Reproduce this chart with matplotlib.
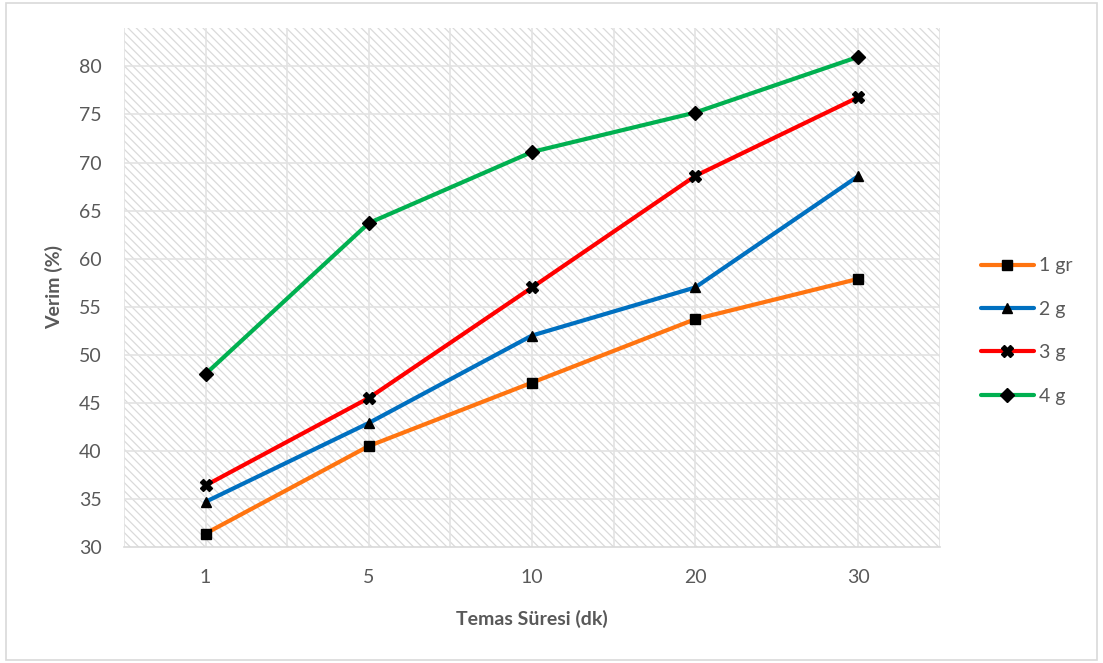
import numpy as np
import matplotlib.pyplot as plt
from matplotlib.patches import Rectangle

plt.rcParams['font.family'] = ['Lato', 'DejaVu Sans']

# contact time categories and yield (%) for each adsorbent dose
sure = ['1', '5', '10', '20', '30']
verim_1g = [31.4, 40.5, 47.1, 53.7, 57.9]
verim_2g = [34.7, 42.9, 52.0, 57.0, 68.6]
verim_3g = [36.4, 45.5, 57.0, 68.6, 76.8]
verim_4g = [48.0, 63.7, 71.1, 75.2, 81.0]
etiketler = ['1 gr', '2 g', '3 g', '4 g']

renkler = ['#FF7410', '#0070C0', '#FF0000', '#00B050']
isaretler = ['s', '^', 'X', 'D']
boyutlar = [7, 7.5, 8, 7.5]

fig = plt.figure(figsize=(11.03, 6.63), dpi=100)
ax = fig.add_axes([0.1124, 0.175, 0.7398, 0.7828])

# outer chart border
fig.patches.append(Rectangle((0.005, 0.004), 0.99, 0.992, transform=fig.transFigure,
                             fill=False, edgecolor='#D9D9D9', linewidth=1.2))

x = np.arange(len(sure))
ax.set_xlim(-0.5, len(sure) - 0.5)
ax.set_ylim(30, 84)

# hatched plot background
plt.rcParams['hatch.linewidth'] = 0.9
ax.add_patch(Rectangle((0, 0), 1, 1, transform=ax.transAxes, facecolor='white',
                       edgecolor='#DADADA', hatch='\\\\\\\\', linewidth=0, zorder=0))

# gridlines
for gx in np.arange(-0.5, len(sure), 0.5):
    ax.axvline(gx, color='#E3E3E3', linewidth=1.2, zorder=1)
for gy in range(35, 85, 5):
    ax.axhline(gy, color='#E3E3E3', linewidth=1.2, zorder=1)

seriler = [verim_1g, verim_2g, verim_3g, verim_4g]
for seri, renk, isaret, boy, etiket in zip(seriler, renkler, isaretler, boyutlar, etiketler):
    ax.plot(x, seri, color=renk, linewidth=3, marker=isaret, markersize=boy,
            markerfacecolor='black', markeredgecolor='black', label=etiket,
            zorder=3, solid_capstyle='round')

for s in ['top', 'right', 'left']:
    ax.spines[s].set_visible(False)
ax.spines['bottom'].set_color('#D9D9D9')
ax.spines['bottom'].set_linewidth(1.2)

ax.set_xticks(x)
ax.set_xticklabels(sure)
ax.set_yticks(range(30, 85, 5))
ax.tick_params(length=0, labelsize=14, labelcolor='#595959')
ax.tick_params(axis='x', pad=16)
ax.tick_params(axis='y', pad=16)

ax.set_xlabel('Temas Süresi (dk)', fontsize=14, fontweight='bold', color='#595959', labelpad=17)
ax.set_ylabel('Verim (%)', fontsize=14, fontweight='bold', color='#595959')
ax.yaxis.set_label_coords(-0.074, 0.5)

leg = ax.legend(loc='center left', bbox_to_anchor=(1.029, 0.416), frameon=False,
                fontsize=14, labelcolor='#595959', handlelength=2.7, handletextpad=0.3,
                labelspacing=1.36)

fig.savefig('out.png', dpi=100)
